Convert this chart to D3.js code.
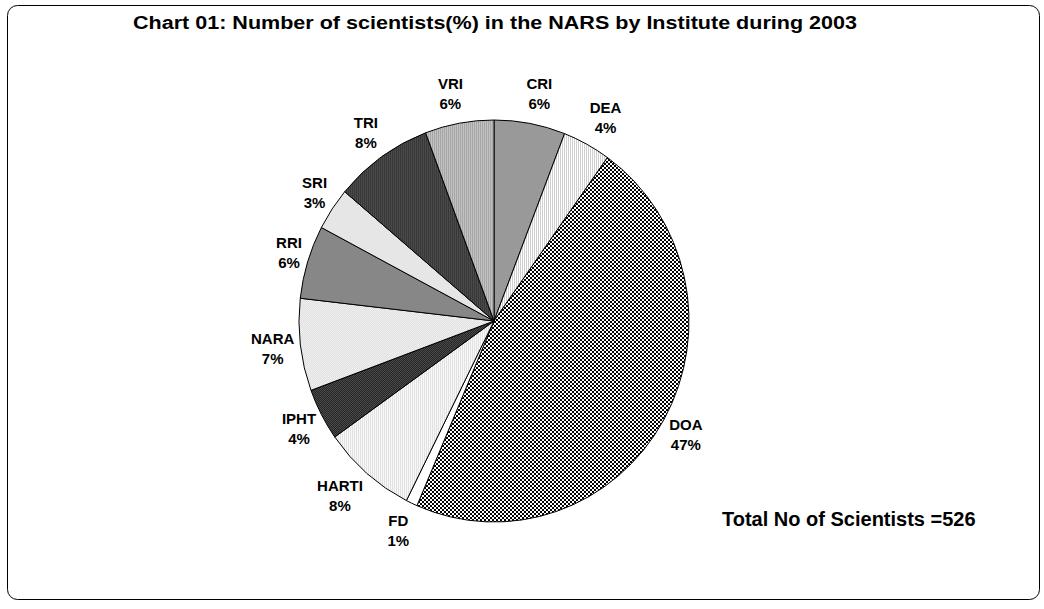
<!DOCTYPE html>
<html><head><meta charset="utf-8">
<script src="https://cdn.jsdelivr.net/npm/d3@7"></script>
<style>body{margin:0;background:#fff}</style>
</head><body>
<svg id="chart" width="1044" height="609"></svg>
<script>
// ---- data ----
const institutes = ["CRI","DEA","DOA","FD","HARTI","IPHT","NARA","RRI","SRI","TRI","VRI"];
const scientists = [31,21,245,5,41,22,39,31,18,43,30];
const titleText = "Chart 01: Number of scientists(%) in the NARS by Institute during 2003";
const totalPrefix = "Total No of Scientists =";

// ---- layout ----
const W = 1044, H = 609;
const cx = 494, cy = 321, ry = 201, rx = 195;
const font = "'Liberation Sans', Arial, sans-serif";
const svg = d3.select("#chart");

// patterns (style only)
const defs = svg.append("defs");
function stripes(id, a, b, comp) {
  const p = defs.append("pattern").attr("id", id).attr("patternUnits","userSpaceOnUse")
    .attr("width",2).attr("height",2).attr("patternTransform", comp);
  p.append("rect").attr("width",1).attr("height",2).attr("fill",a);
  p.append("rect").attr("x",1).attr("width",1).attr("height",2).attr("fill",b);
}
function checker(id, a, b, s, comp) {
  const p = defs.append("pattern").attr("id", id).attr("patternUnits","userSpaceOnUse")
    .attr("width",2*s).attr("height",2*s).attr("patternTransform", comp);
  p.append("rect").attr("width",2*s).attr("height",2*s).attr("fill",b);
  p.append("rect").attr("width",s).attr("height",s).attr("fill",a);
  p.append("rect").attr("x",s).attr("y",s).attr("width",s).attr("height",s).attr("fill",a);
}
const comp = `scale(${ry/rx},1)`;
stripes("pDEA", "#cfcfcf", "#ffffff", comp);
checker("pDOA", "#000000", "#ffffff", 2, comp);
stripes("pHARTI", "#e2e2e2", "#f8f8f8", comp);
checker("pIPHT", "#262626", "#4a4a4a", 1, comp);
checker("pNARA", "#e0e0e0", "#f0f0f0", 1, comp);
stripes("pTRI", "#383838", "#4a4a4a", comp);
stripes("pVRI", "#a6a6a6", "#c2c2c2", comp);
const fills = {CRI:"#999999", DEA:"url(#pDEA)", DOA:"url(#pDOA)", FD:"#ffffff",
  HARTI:"url(#pHARTI)", IPHT:"url(#pIPHT)", NARA:"url(#pNARA)", RRI:"#878787",
  SRI:"#e6e6e6", TRI:"url(#pTRI)", VRI:"url(#pVRI)"};

// frame
svg.append("rect").attr("x",7.5).attr("y",5.5).attr("width",1032).attr("height",594)
  .attr("rx",10).attr("fill","none").attr("stroke","#000").attr("stroke-width",1);

// title
svg.append("text").attr("x",495).attr("y",29).attr("text-anchor","middle")
  .attr("font-family",font).attr("font-weight","bold").attr("font-size",18)
  .attr("textLength",724).attr("lengthAdjust","spacingAndGlyphs")
  .text(titleText);

const data = institutes.map((k,i)=>({name:k, value:scientists[i]}));
const total = d3.sum(scientists);
const pie = d3.pie().value(d=>d.value).sort(null);
const arcs = pie(data);
const arc = d3.arc().innerRadius(0).outerRadius(ry);

const g = svg.append("g").attr("transform",`translate(${cx},${cy}) scale(${rx/ry},1)`);
g.selectAll("path").data(arcs).join("path")
  .attr("d", arc)
  .attr("fill", d=>fills[d.data.name])
  .attr("stroke","#000").attr("stroke-width",1)
  .attr("vector-effect","non-scaling-stroke");

// labels
const lg = svg.append("g").attr("font-family",font).attr("font-weight","bold").attr("font-size",15)
  .attr("text-anchor","middle").attr("fill","#000");
arcs.forEach(d=>{
  const a = (d.startAngle + d.endAngle)/2;
  const ux = Math.sin(a), uy = -Math.cos(a);
  const ex = cx + rx*ux, ey = cy + ry*uy;
  const pct = Math.round(d.data.value/total*100) + "%";
  const t = lg.append("text");
  t.append("tspan").attr("x",0).attr("dy",0).text(d.data.name);
  t.append("tspan").attr("x",0).attr("dy",20).text(pct);
  const w = t.node().getBBox().width;
  const lx = ex + Math.sign(ux)*(w/2)*Math.min(1, Math.abs(ux)*3.5) + 6*ux;
  const ly = ey + 30*uy;
  t.attr("transform",`translate(${lx},${ly - 10 + 5.4})`);
});

// total annotation
svg.append("text").attr("x",722).attr("y",526)
  .attr("font-family",font).attr("font-weight","bold").attr("font-size",20)
  .text(totalPrefix + total);
</script>
</body></html>
